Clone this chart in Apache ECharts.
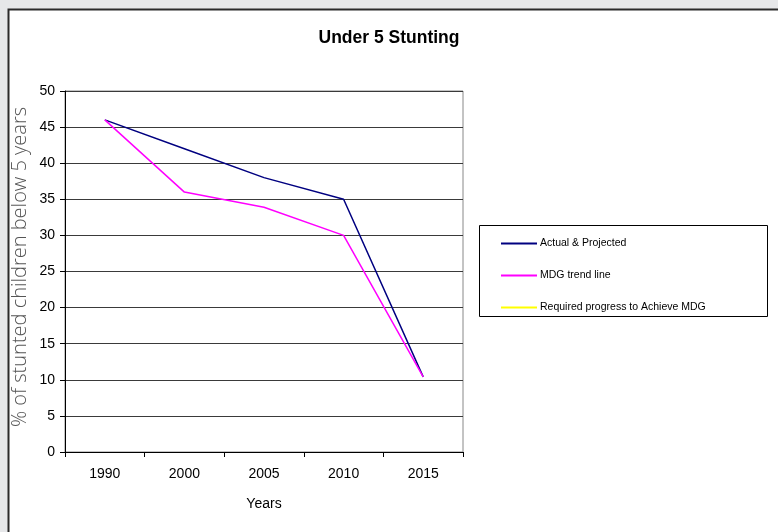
<!DOCTYPE html>
<html>
<head>
<meta charset="utf-8">
<script src="https://cdn.jsdelivr.net/npm/echarts@6/dist/echarts.min.js"></script>
<style>
  html, body { margin: 0; padding: 0; background: #e6e7e9; }
  #chart { width: 778px; height: 532px; }
</style>
</head>
<body>
<div id="chart"></div>
<script>
// Survey years on the horizontal axis
const years = ['1990', '2000', '2005', '2010', '2015'];
// Percentage of stunted children under five
const actualProjected = [46, 42, 38, 35, 10.4];
const mdgTrend = [46, 36, 33.9, 30, 10.4];
const requiredProgress = [null, null, null, null, null];
const seriesNames = ['Actual & Projected', 'MDG trend line', 'Required progress to Achieve MDG'];
const yAxisTitle = '% of stunted children below 5 years';

const chart = echarts.init(document.getElementById('chart'), null, { renderer: 'canvas' });

const lineSeries = (name, data, color) => ({
  name: name,
  type: 'line',
  data: data,
  color: color,
  symbol: 'none',
  showSymbol: false,
  lineStyle: { color: color, width: 1.5 },
  itemStyle: { color: color },
  emphasis: { disabled: true },
  animation: false,
  z: 5
});

chart.setOption({
  animation: false,
  backgroundColor: 'transparent',
  graphic: [
    {
      type: 'rect',
      z: -10,
      silent: true,
      shape: { x: 8.5, y: 9.5, width: 820, height: 600 },
      style: { fill: '#ffffff', stroke: '#2a2a2a', lineWidth: 2 }
    },
    {
      type: 'rect',
      z: 1,
      silent: true,
      shape: { x: 479.5, y: 225.5, width: 288, height: 91 },
      style: { fill: '#ffffff', stroke: '#000000', lineWidth: 1 }
    },
    {
      // vertical title of the value axis
      type: 'text',
      z: 2,
      silent: true,
      x: 20,
      y: 267,
      rotation: Math.PI / 2,
      style: {
        text: yAxisTitle,
        font: '300 20px "Open Sans", sans-serif',
        fill: '#555555',
        align: 'center',
        verticalAlign: 'middle'
      }
    }
  ],
  title: {
    text: 'Under 5 Stunting',
    left: 'center',
    top: 24,
    textStyle: {
      fontFamily: 'Liberation Sans, Arial, sans-serif',
      fontSize: 17.5,
      fontWeight: 'bold',
      color: '#000'
    }
  },
  legend: {
    orient: 'vertical',
    left: 496,
    top: 233,
    z: 3,
    itemWidth: 36,
    itemHeight: 2,
    itemGap: 21,
    icon: 'rect',
    selectedMode: false,
    data: seriesNames,
    textStyle: {
      fontFamily: 'Liberation Sans, Arial, sans-serif',
      fontSize: 10.5,
      color: '#000',
      padding: [0, 0, 0, -2]
    }
  },
  grid: {
    left: 65,
    top: 91,
    right: 315,
    bottom: 80,
    show: true,
    borderColor: '#888888',
    borderWidth: 1,
    backgroundColor: '#ffffff'
  },
  xAxis: {
    type: 'category',
    data: years,
    boundaryGap: true,
    name: 'Years',
    nameLocation: 'middle',
    nameGap: 45,
    nameTextStyle: {
      fontFamily: 'Liberation Sans, Arial, sans-serif',
      fontSize: 14,
      color: '#000'
    },
    axisLine: { show: true, lineStyle: { color: '#000', width: 1 } },
    axisTick: { show: true, interval: 0, length: 5, lineStyle: { color: '#000' } },
    axisLabel: {
      margin: 15,
      fontFamily: 'Liberation Sans, Arial, sans-serif',
      fontSize: 14,
      color: '#000'
    },
    splitLine: { show: false }
  },
  yAxis: {
    type: 'value',
    min: 0,
    max: 50,
    interval: 5,
    axisLine: { show: true, lineStyle: { color: '#000', width: 1 } },
    axisTick: { show: true, length: 5, lineStyle: { color: '#000' } },
    axisLabel: {
      margin: 10,
      fontFamily: 'Liberation Sans, Arial, sans-serif',
      fontSize: 14,
      color: '#000'
    },
    splitLine: { show: true, lineStyle: { color: '#3a3a3a', width: 1 } }
  },
  series: [
    lineSeries(seriesNames[0], actualProjected, '#000080'),
    lineSeries(seriesNames[1], mdgTrend, '#ff00ff'),
    lineSeries(seriesNames[2], requiredProgress, '#ffff00')
  ]
});
</script>
</body>
</html>
